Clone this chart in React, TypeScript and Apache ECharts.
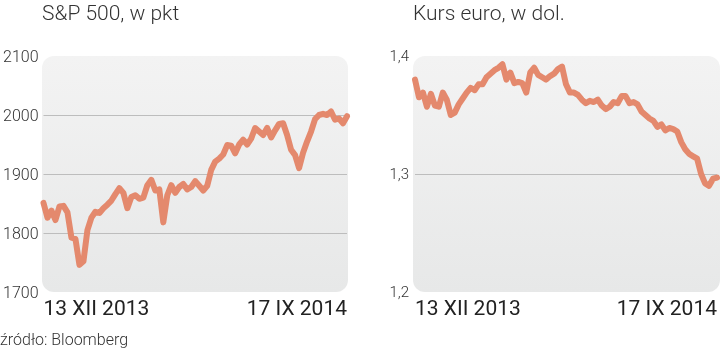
import React, { useEffect, useRef } from "react";
import * as echarts from "echarts";

const spTitle = "S&P 500, w pkt";
const eurTitle = "Kurs euro, w dol.";
const sourceText = "źródło: Bloomberg";
const startLabel = "13 XII 2013";
const endLabel = "17 IX 2014";

const spValues = [
  1851, 1826, 1838, 1822, 1845, 1846, 1835, 1792, 1790, 1746, 1752, 1805, 1826, 1836, 1834, 1842,
  1848, 1855, 1866, 1876, 1868, 1842, 1861, 1864, 1858, 1860, 1881, 1890, 1872, 1874, 1818, 1864,
  1881, 1868, 1878, 1883, 1874, 1878, 1888, 1880, 1872, 1880, 1907, 1921, 1926, 1933, 1949, 1948,
  1935, 1950, 1958, 1950, 1960, 1978, 1972, 1966, 1978, 1962, 1974, 1985, 1986, 1966, 1941, 1932,
  1910, 1936, 1955, 1972, 1993, 2000, 2002, 2000, 2006, 1992, 1994, 1986, 1998,
];

const eurValues = [
  1.38, 1.365, 1.369, 1.357, 1.368, 1.358, 1.357, 1.369, 1.363, 1.35, 1.352, 1.359, 1.364, 1.369,
  1.373, 1.371, 1.376, 1.376, 1.382, 1.385, 1.388, 1.39, 1.393, 1.38, 1.386, 1.377, 1.378, 1.377,
  1.369, 1.386, 1.39, 1.384, 1.382, 1.38, 1.383, 1.385, 1.389, 1.391, 1.376, 1.369, 1.369, 1.367,
  1.363, 1.36, 1.362, 1.361, 1.363, 1.358, 1.355, 1.357, 1.361, 1.36, 1.366, 1.366, 1.36, 1.361,
  1.359, 1.353, 1.35, 1.347, 1.345, 1.34, 1.342, 1.337, 1.339, 1.338, 1.336, 1.327, 1.321, 1.317,
  1.315, 1.313, 1.3, 1.292, 1.29, 1.296, 1.297,
];

const spTicks = [1700, 2100, 100];
const eurTicks = [1.2, 1.4, 0.1];

const FONT = "Roboto, 'Noto Sans', sans-serif";
const LINE = "#e4896d";

export default function App() {
  const ref = useRef<HTMLDivElement>(null);
  useEffect(() => {
    if (!ref.current) return;
    const chart = echarts.init(ref.current, undefined, { renderer: "svg" });
    const spCats = spValues.map((_, i) => String(i));
    const eurCats = eurValues.map((_, i) => String(i));
    const bg = () =>
      new echarts.graphic.LinearGradient(0, 0, 0, 1, [
        { offset: 0, color: "#f3f3f3" },
        { offset: 1, color: "#e7e8e8" },
      ]);
    const xAxisBase = (n: number) => ({
      type: "category" as const,
      boundaryGap: false,
      axisLine: { show: false },
      axisTick: { show: false },
      axisLabel: {
        interval: (i: number) => i === 0 || i === n - 1,
        formatter: (_v: string, i: number) => (i === 0 ? startLabel : endLabel),
        alignMinLabel: "left",
        alignMaxLabel: "right",
        fontSize: 21,
        color: "#222",
        fontFamily: FONT,
        margin: 5,
        verticalAlign: "top",
      },
    });
    chart.setOption({
      animation: false,
      title: [
        {
          text: spTitle,
          left: 42,
          top: 2,
          padding: 0,
          textStyle: { fontSize: 21, fontWeight: 300, color: "#333", fontFamily: FONT },
        },
        {
          text: eurTitle,
          left: 413,
          top: 2,
          padding: 0,
          textStyle: { fontSize: 21, fontWeight: 300, color: "#333", fontFamily: FONT },
        },
        {
          text: sourceText,
          left: 0,
          top: 331,
          padding: 0,
          textStyle: { fontSize: 16, fontWeight: 300, color: "#333", fontFamily: FONT },
        },
      ],
      graphic: [
        {
          type: "rect",
          z: -10,
          silent: true,
          shape: { x: 42, y: 56, width: 306, height: 236, r: 12 },
          style: { fill: bg() },
        },
        {
          type: "rect",
          z: -10,
          silent: true,
          shape: { x: 413, y: 56, width: 307, height: 236, r: 12 },
          style: { fill: bg() },
        },
      ],
      grid: [
        { left: 43, right: 373, top: 56, height: 236 },
        { left: 415, right: 1, top: 56, height: 236 },
      ],
      xAxis: [
        { ...xAxisBase(spCats.length), gridIndex: 0, data: spCats },
        { ...xAxisBase(eurCats.length), gridIndex: 1, data: eurCats },
      ],
      yAxis: [
        {
          type: "value",
          gridIndex: 0,
          min: spTicks[0],
          max: spTicks[1],
          interval: spTicks[2],
          axisLine: { show: false },
          axisTick: { show: false },
          axisLabel: {
            fontSize: 16,
            color: "#333",
            fontFamily: FONT,
            fontWeight: 300,
            margin: 5,
            formatter: (v: number) => String(v),
          },
          splitLine: {
            lineStyle: { color: ["transparent", "#bdbdbd", "#bdbdbd", "#bdbdbd", "transparent"], width: 1 },
          },
        },
        {
          type: "value",
          gridIndex: 1,
          min: eurTicks[0],
          max: eurTicks[1],
          interval: eurTicks[2],
          axisLine: { show: false },
          axisTick: { show: false },
          axisLabel: {
            fontSize: 15,
            color: "#333",
            fontFamily: FONT,
            fontWeight: 300,
            margin: 6,
            formatter: (v: number) => v.toFixed(1).replace(".", ","),
          },
          splitLine: {
            lineStyle: { color: ["transparent", "#bdbdbd", "transparent"], width: 1 },
          },
        },
      ],
      series: [
        {
          type: "line",
          xAxisIndex: 0,
          yAxisIndex: 0,
          data: spValues,
          symbol: "none",
          clip: false,
          lineStyle: { color: LINE, width: 6, join: "round", cap: "round" },
        },
        {
          type: "line",
          xAxisIndex: 1,
          yAxisIndex: 1,
          data: eurValues,
          symbol: "none",
          clip: false,
          lineStyle: { color: LINE, width: 6, join: "round", cap: "round" },
        },
      ],
    });
    return () => chart.dispose();
  }, []);
  return (
    <div
      ref={ref}
      style={{ position: "fixed", left: 0, top: 0, width: 720, height: 353 }}
    />
  );
}
